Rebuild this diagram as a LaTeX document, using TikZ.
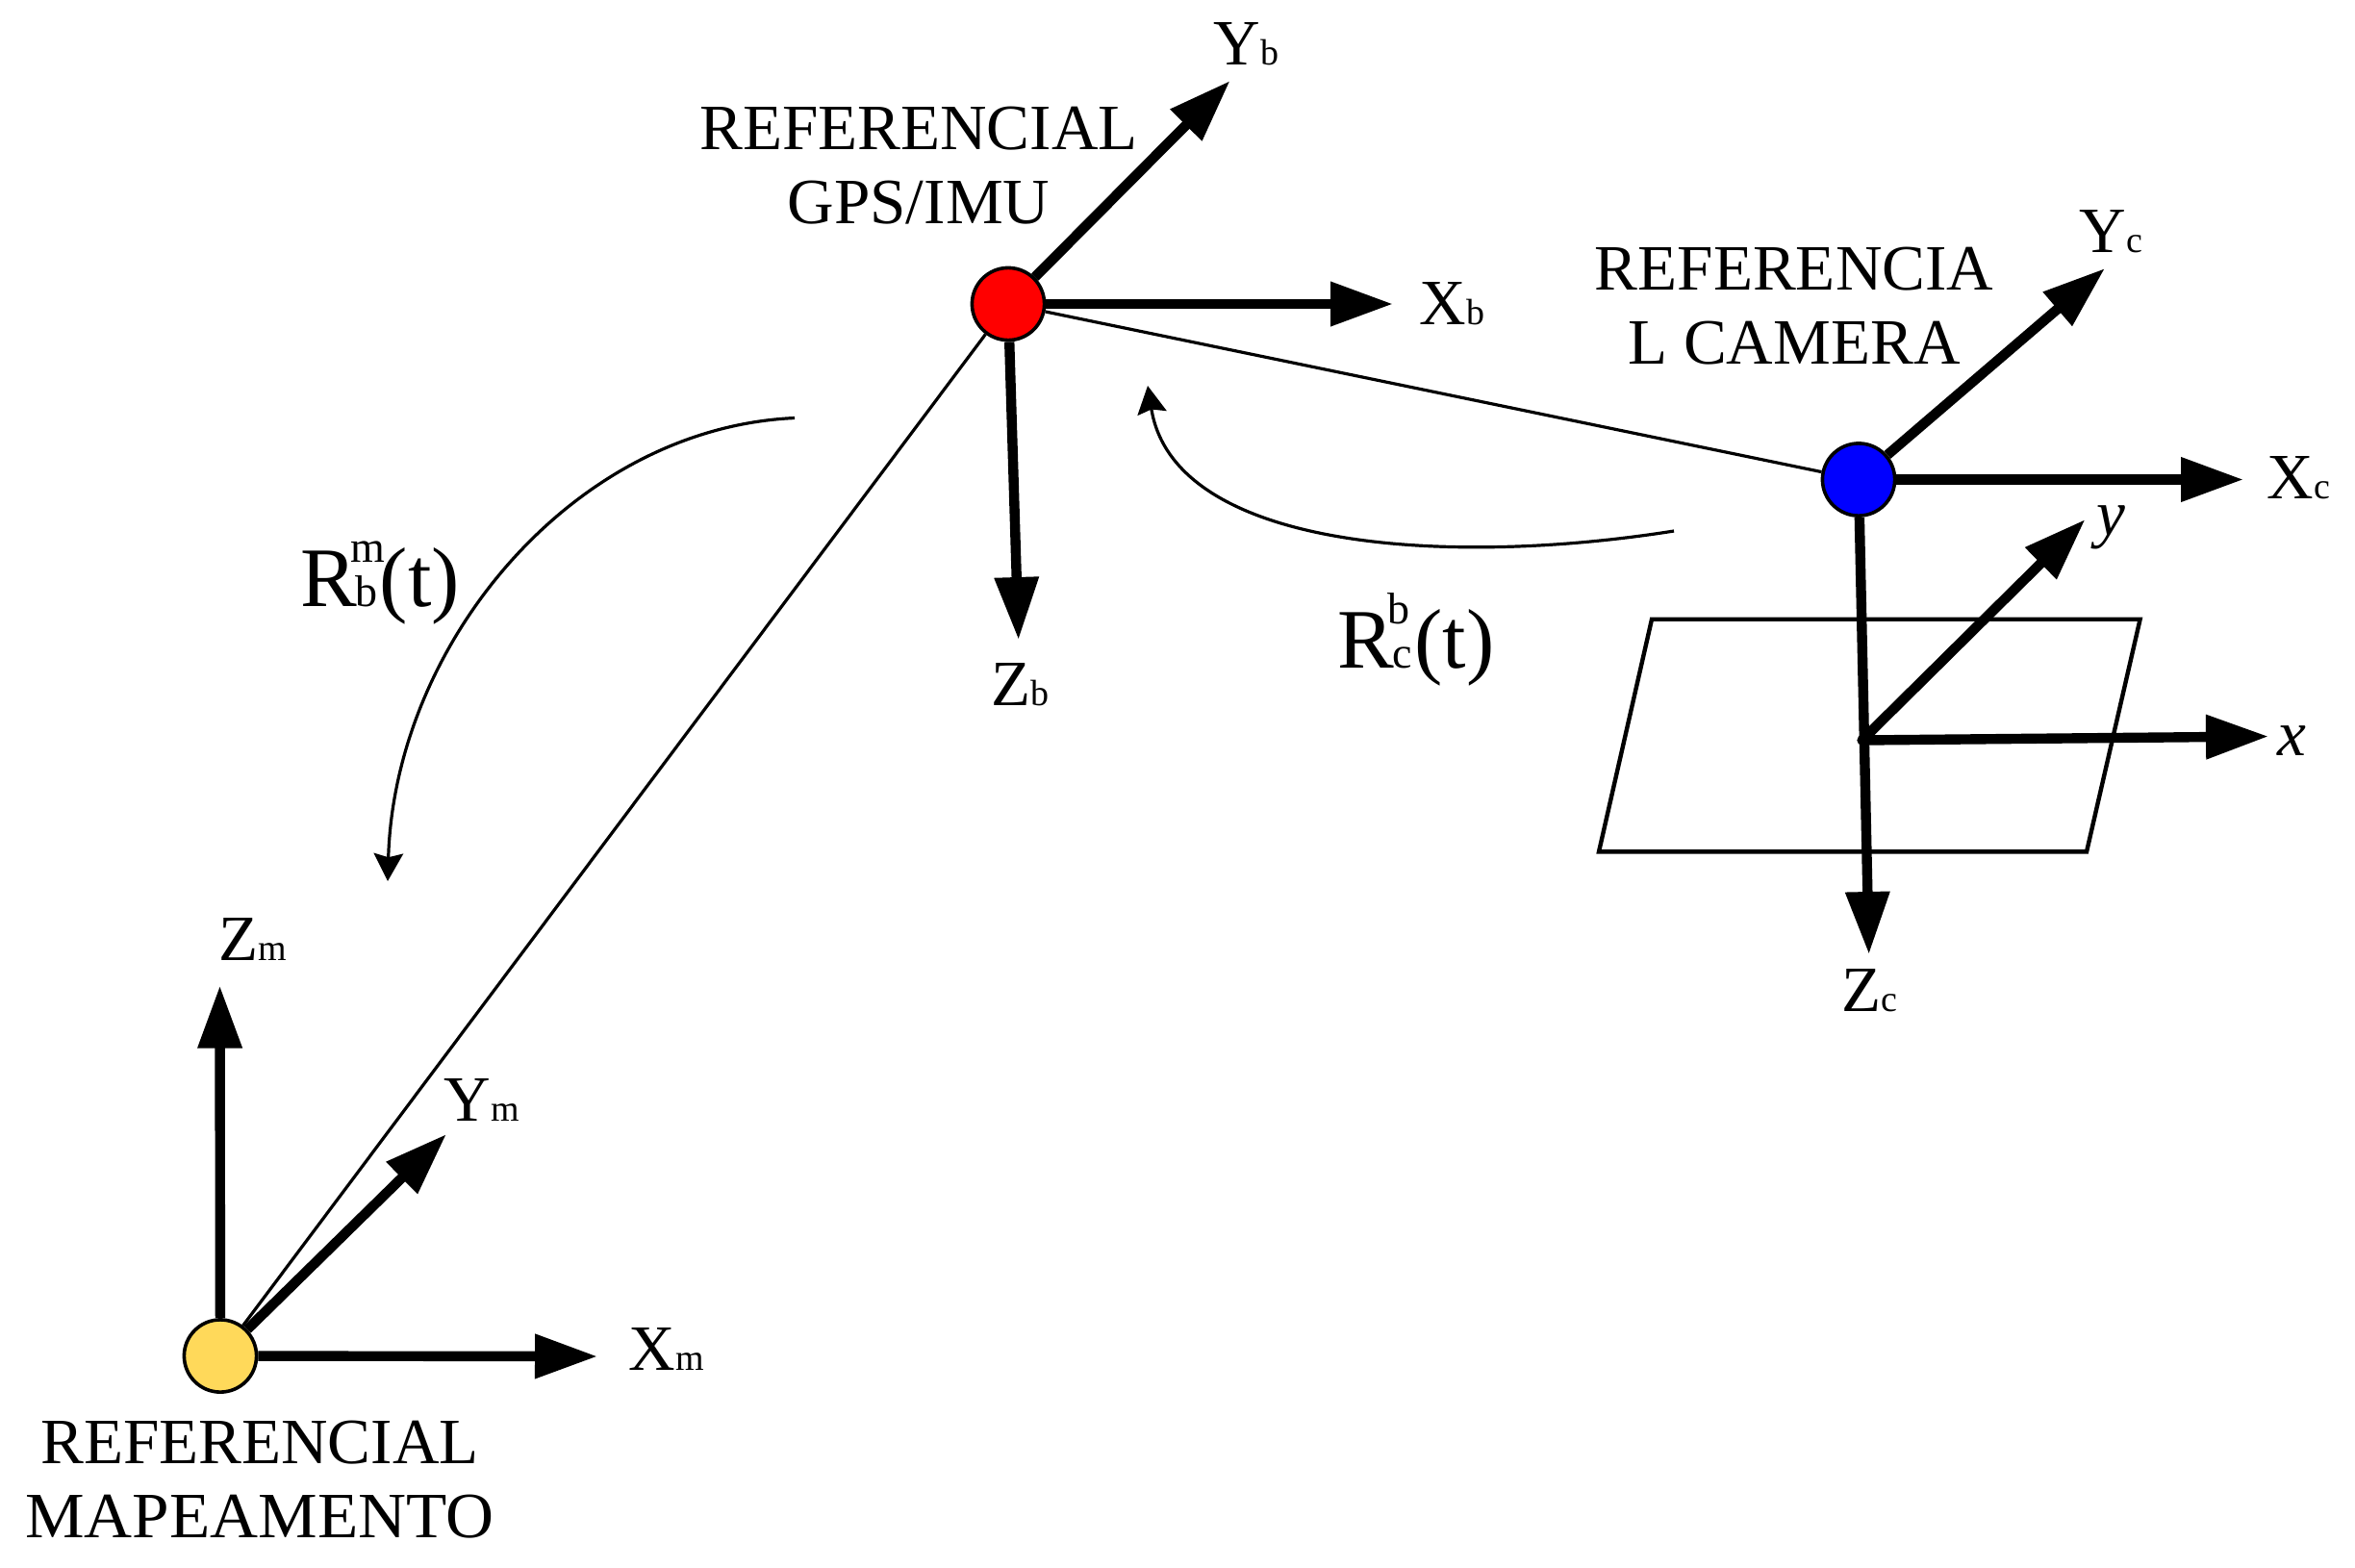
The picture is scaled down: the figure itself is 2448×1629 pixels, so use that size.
\documentclass[tikz,border=0pt]{standalone}
\usepackage{fontspec}
\setmainfont{Liberation Serif}
\usetikzlibrary{arrows.meta}
\definecolor{mapyellow}{RGB}{255,217,90}
\newcommand{\sublab}[2]{#1{\fontsize{9.5}{10}\selectfont #2}}
\newcommand{\rlab}[2]{R\kern-0.4pt\rlap{\kern-1.4pt\raisebox{11.5pt}{\fontsize{11.5}{12}\selectfont #2}}{\fontsize{11.5}{12}\selectfont #1}\kern0.5pt(t)}
\tikzset{
  x=0.25pt,y=-0.25pt,
  origin/.style={circle,draw=black,line width=0.9pt,minimum size=18.8pt,inner sep=0pt},
  axis/.style={line width=2.6pt,-{Triangle[length=16.25pt,width=11pt]}},
  link/.style={line width=0.8pt},
  turn/.style={line width=0.8pt,-{Stealth[length=7.2pt,width=7.6pt,inset=1pt]}},
  plane/.style={line width=1.1pt,line join=miter},
  caption/.style={align=center,font=\fontsize{16.8}{19.4}\selectfont,inner sep=0pt},
  axlabel/.style={anchor=base west,font=\fontsize{16.8}{19}\selectfont,inner sep=0pt},
  rotlabel/.style={anchor=base west,font=\fontsize{22}{24}\selectfont,inner sep=0pt}
}
\begin{document}
\begin{tikzpicture}
\useasboundingbox (0,0) rectangle (2448,1629);
% origins
\node[origin,fill=red] (gps) at (1048,316) {};
\node[origin,fill=blue] (cam) at (1932,498.5) {};
\node[origin,fill=mapyellow] (map) at (229,1409.5) {};
\node[circle,fill=black,inner sep=0pt,minimum size=2.6pt] (img) at (1935.5,769.5) {};
% image plane
\coordinate (p1) at (1717,643.7);
\coordinate (p2) at (2224.6,643.7);
\coordinate (p3) at (2169,885.4);
\coordinate (p4) at (1662,885.4);
\draw[plane] (p1) -- (p2) -- (p3) -- (p4) -- cycle;
% links
\draw[link] (gps) -- (map);
\draw[link] (gps) -- (cam);
% axis ends
\coordinate (yb) at (1278.6,84);
\coordinate (xb) at (1448,316);
\coordinate (zb) at (1058.7,665);
\coordinate (yc) at (2188,279);
\coordinate (xc) at (2332,498.5);
\coordinate (zc) at (1942.7,992);
\coordinate (yi) at (2167.5,540);
\coordinate (xi) at (2358,765.5);
\coordinate (zm) at (228.5,1024.6);
\coordinate (xm) at (621,1410);
\coordinate (ym) at (464,1179);
\draw[axis] (gps) -- (yb);
\draw[axis] (gps) -- (xb);
\draw[axis] (gps) -- (zb);
\draw[axis] (cam) -- (yc);
\draw[axis] (cam) -- (xc);
\draw[axis] (cam) -- (zc);
\draw[axis] (img.center) -- (yi);
\draw[axis] (img.center) -- (xi);
\draw[axis] (map) -- (zm);
\draw[axis] (map) -- (xm);
\draw[axis] (map) -- (ym);
% rotation arrows
\coordinate (r1s) at (826,434.5);
\coordinate (r1e) at (403,916);
\coordinate (r2s) at (1740,552);
\coordinate (r2e) at (1193,401);
\draw[turn] (r1s) .. controls (595,445) and (410,670) .. (r1e);
\draw[turn] (r2s) .. controls (1500,590) and (1220,570) .. (r2e);
% captions
\node[caption] (capgps) at (955,172) {REFERENCIAL\\GPS/IMU};
\node[caption] (capcam) at (1865,318) {REFERENCIA\\L CAMERA};
\node[caption] (capmap) at (270,1538) {REFERENCIAL\\\scalebox{1.03}[1]{MAPEAMENTO}};
% axis labels
\node[axlabel] (lyb) at (1261,67) {\sublab{Y}{b}};
\node[axlabel] (lxb) at (1475,337) {\sublab{X}{b}};
\node[axlabel] (lzb) at (1030,733.5) {\sublab{Z}{b}};
\node[axlabel] (lyc) at (2161,262) {\sublab{Y}{c}};
\node[axlabel] (lxc) at (2356,518.6) {\sublab{X}{c}};
\node[axlabel] (lzc) at (1914,1051) {\sublab{Z}{c}};
\node[axlabel] (lyi) at (2178.5,556) {\textit{y}};
\node[axlabel] (lxi) at (2367,785.5) {\textit{x}};
\node[axlabel] (lzm) at (227,998.6) {\sublab{Z}{m}};
\node[axlabel] (lym) at (460.7,1165) {\sublab{Y}{m}};
\node[axlabel] (lxm) at (653,1424.6) {\sublab{X}{m}};
% rotation labels
\node[rotlabel] (rbm) at (312,630) {\rlab{b}{m}};
\node[rotlabel] (rcb) at (1390,694) {\rlab{c}{b}};
\end{tikzpicture}
\end{document}
